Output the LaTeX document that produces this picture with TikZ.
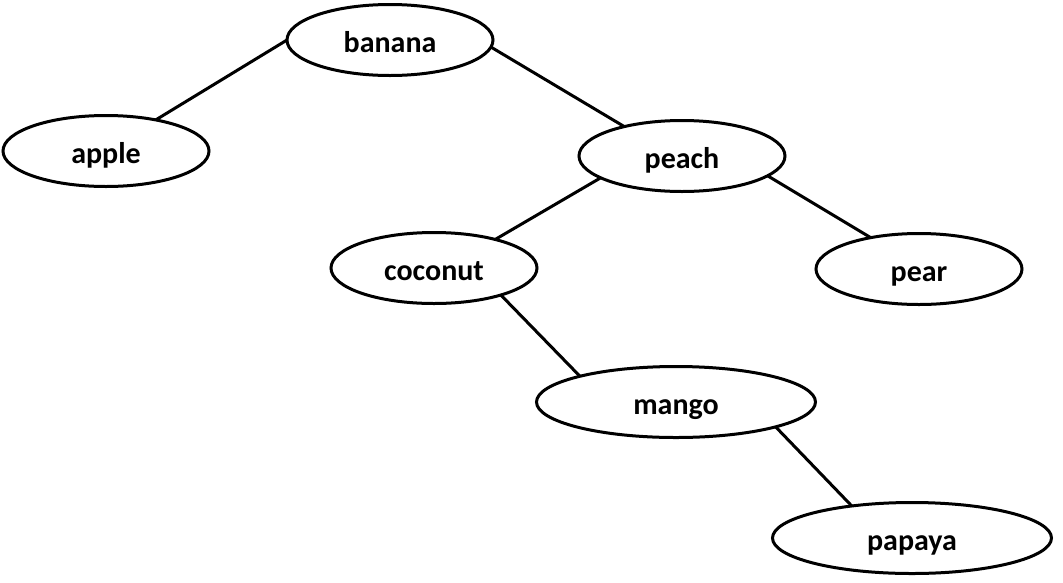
\documentclass[tikz,border=0pt]{standalone}
\usepackage{fontspec}
\setmainfont{Carlito}
\usetikzlibrary{shapes.geometric}
\begin{document}
\begin{tikzpicture}[x=1pt,y=-1pt,
  fruit/.style={draw=black, line width=3pt, ellipse, inner sep=0pt, outer sep=0pt,
    minimum height=71pt, font=\fontsize{30}{36}\selectfont\bfseries,
    text height=24pt, text depth=0pt},
  small/.style={fruit, minimum width=206pt},
  wide/.style={fruit, minimum width=279pt},
  link/.style={draw=black, line width=3pt}]
\useasboundingbox (0,0) rectangle (1063,582);
\fill[white] (0,0) rectangle (1063,582);
\node[small] (banana) at (390,40) {banana};
\node[small] (apple) at (106,151) {apple};
\node[small] (peach) at (682,156) {peach};
\node[small] (coconut) at (434,268) {coconut};
\node[small] (pear) at (919,269) {pear};
\node[wide] (mango) at (676,402) {mango};
\node[wide] (papaya) at (912,538) {papaya};
\draw[link] (banana.180) -- (apple.32);
\draw[link] (banana.356) -- (peach.153);
\draw[link] (peach.195) -- (coconut.25);
\draw[link] (peach.347) -- (pear.147);
\draw[link] (coconut.338) -- (mango.165);
\draw[link] (mango.346) -- (papaya.152);
\end{tikzpicture}
\end{document}
